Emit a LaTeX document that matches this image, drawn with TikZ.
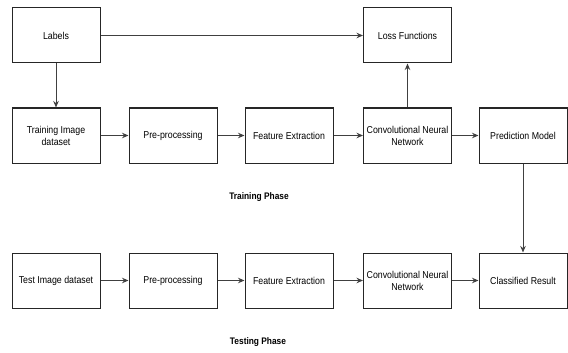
\documentclass[tikz,border=0pt]{standalone}
\usepackage{fontspec}
\setmainfont[FakeStretch=0.88]{Liberation Sans}
\usetikzlibrary{arrows.meta}
\begin{document}
\begin{tikzpicture}[x=1pt,y=-1pt,
  blk/.style={draw=black!85,line width=1pt,minimum width=88pt,minimum height=55pt,align=center,font=\fontsize{10}{12}\selectfont,inner sep=1pt},
  arr/.style={draw=black!75,line width=1pt,-{Stealth[length=6.5pt,width=5.5pt]}},
  phase/.style={font=\bfseries\fontsize{9.5}{11}\selectfont}]
\useasboundingbox (0,0) rectangle (568,353);
\node[blk] (lab) at (56,35.5) {Labels};
\node[blk] (loss) at (407.5,35.5) {Loss Functions};
\node[blk] (tri) at (56,135.5) {Training Image\\dataset};
\node[blk] (pp1) at (173,135.5) {Pre-processing};
\node[blk] (fe1) at (289,135.5) {Feature Extraction};
\node[blk] (cnn1) at (407.5,135.5) {Convolutional Neural\\Network};
\node[blk] (pm) at (523,135.5) {Prediction Model};
\node[blk] (tei) at (56,280.5) {Test Image dataset};
\node[blk] (pp2) at (173,280.5) {Pre-processing};
\node[blk] (fe2) at (289,280.5) {Feature Extraction};
\node[blk] (cnn2) at (407.5,280.5) {Convolutional Neural\\Network};
\node[blk] (cr) at (523,280.5) {Classified Result};
\node[phase] (tp) at (259,197) {Training Phase};
\node[phase] (tsp) at (258,342) {Testing Phase};
\draw[arr] (lab) -- (loss);
\draw[arr] (lab) -- (tri);
\draw[arr] (tri) -- (pp1);
\draw[arr] (pp1) -- (fe1);
\draw[arr] (fe1) -- (cnn1);
\draw[arr] (cnn1) -- (pm);
\draw[arr] (cnn1) -- (loss);
\draw[arr] (pm) -- (cr);
\draw[arr] (tei) -- (pp2);
\draw[arr] (pp2) -- (fe2);
\draw[arr] (fe2) -- (cnn2);
\draw[arr] (cnn2) -- (cr);
\end{tikzpicture}
\end{document}
